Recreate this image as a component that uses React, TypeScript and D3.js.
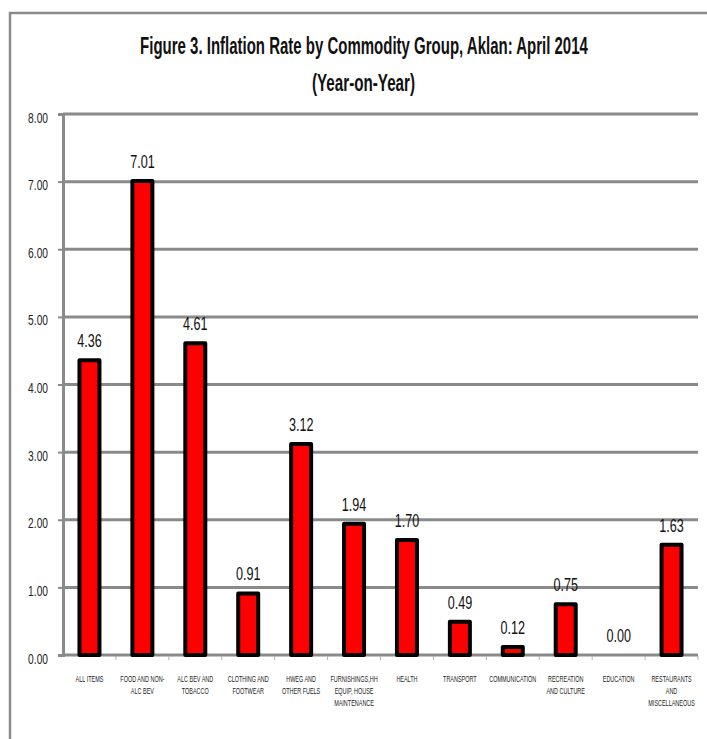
import { useEffect, useRef } from 'react'
import * as d3 from 'd3'

const categories = [
  'ALL ITEMS',
  'FOOD AND NON-\nALC BEV',
  'ALC BEV AND\nTOBACCO',
  'CLOTHING AND\nFOOTWEAR',
  'HWEG AND\nOTHER FUELS',
  'FURNISHINGS,HH\nEQUIP, HOUSE\nMAINTENANCE',
  'HEALTH',
  'TRANSPORT',
  'COMMUNICATION',
  'RECREATION\nAND CULTURE',
  'EDUCATION',
  'RESTAURANTS\nAND\nMISCELLANEOUS'
]
const values = [4.36, 7.01, 4.61, 0.91, 3.12, 1.94, 1.7, 0.49, 0.12, 0.75, 0.0, 1.63]
const yTicks = [0, 1, 2, 3, 4, 5, 6, 7, 8]

const titleLine1 = 'Figure 3. Inflation Rate by Commodity Group, Aklan: April 2014'
const titleLine2 = '(Year-on-Year)'

const W = 707
const H = 739
const FONT = '"Liberation Sans", Arial, sans-serif'

export default function App() {
  const svgRef = useRef<SVGSVGElement>(null)

  useEffect(() => {
    if (!svgRef.current) return
    const svg = d3.select(svgRef.current)
    svg.selectAll('*').remove()

    const margin = { top: 114, right: 9, bottom: 84, left: 63 }
    const innerW = W - margin.left - margin.right
    const innerH = H - margin.top - margin.bottom

    // outer frame (runs off the right and bottom edge)
    svg.append('rect')
      .attr('x', 10).attr('y', 13)
      .attr('width', 760).attr('height', 800)
      .attr('fill', 'none')
      .attr('stroke', '#8a8a8a')
      .attr('stroke-width', 2.5)

    // title lines, squeezed to the narrow width of the original
    const fitTitle = (txt: string, cx: number, by: number, width: number) => {
      const t = svg.append('text')
        .attr('text-anchor', 'middle')
        .attr('font-family', FONT)
        .attr('font-weight', 'bold')
        .attr('font-size', 24)
        .attr('fill', '#111')
        .text(txt)
      const len = (t.node() as SVGTextElement).getComputedTextLength() || width
      t.attr('transform', `translate(${cx},${by}) scale(${width / len},1)`)
    }
    fitTitle(titleLine1, 364, 54, 448)
    fitTitle(titleLine2, 363.5, 91, 103)

    const g = svg.append('g').attr('transform', `translate(${margin.left},${margin.top})`)

    const x = d3.scaleBand().domain(categories).range([0, innerW])
    const y = d3.scaleLinear().domain([0, 8]).range([innerH, 0])

    // gridlines
    g.selectAll('.grid')
      .data(yTicks.filter(t => t > 0))
      .enter()
      .append('line')
      .attr('x1', 0).attr('x2', innerW)
      .attr('y1', d => y(d)).attr('y2', d => y(d))
      .attr('stroke', '#8a8a8a')
      .attr('stroke-width', 3)

    // y axis
    const yAxis = g.append('g')
      .call(d3.axisLeft(y).tickValues(yTicks).tickSize(5).tickFormat(d => d3.format('.2f')(d as number)))
    yAxis.select('.domain').attr('stroke', '#8a8a8a').attr('stroke-width', 3)
    yAxis.selectAll('.tick line').attr('stroke', '#8a8a8a').attr('stroke-width', 2)
    yAxis.selectAll('.tick text')
      .attr('x', null)
      .attr('dy', null)
      .attr('text-anchor', 'end')
      .attr('font-family', FONT)
      .attr('font-size', 14)
      .attr('fill', '#222')
      .attr('transform', 'translate(-15,8) scale(0.73,1)')

    // x axis
    const xAxis = g.append('g').attr('transform', `translate(0,${innerH})`)
    xAxis.append('line')
      .attr('x1', 0).attr('x2', innerW)
      .attr('stroke', '#8a8a8a').attr('stroke-width', 3)
    xAxis.selectAll('.xt')
      .data(categories)
      .enter()
      .append('line')
      .attr('x1', d => (x(d) ?? 0) + x.step())
      .attr('x2', d => (x(d) ?? 0) + x.step())
      .attr('y1', 1).attr('y2', 5)
      .attr('stroke', '#b0b0b0').attr('stroke-width', 1)

    const labels = xAxis.selectAll('.xl')
      .data(categories)
      .enter()
      .append('text')
      .attr('text-anchor', 'middle')
      .attr('font-family', FONT)
      .attr('font-size', 8.3)
      .attr('fill', '#222')
      .attr('transform', d => `translate(${(x(d) ?? 0) + x.bandwidth() / 2},27) scale(0.66,1)`)
    labels.each(function (d) {
      const t = d3.select(this)
      d.split('\n').forEach((line, i) => {
        t.append('tspan')
          .attr('x', 0)
          .attr('y', i * 12)
          .text(line)
      })
    })

    // bars
    const barW = 20
    g.selectAll('.bar')
      .data(values)
      .enter()
      .append('rect')
      .attr('x', (d, i) => (x(categories[i]) ?? 0) + x.bandwidth() / 2 - barW / 2)
      .attr('y', d => y(d))
      .attr('width', barW)
      .attr('height', d => innerH - y(d))
      .attr('fill', d => (d > 0 ? '#ff0000' : 'none'))
      .attr('stroke', d => (d > 0 ? '#000' : 'none'))
      .attr('stroke-width', 4)
      .attr('stroke-linejoin', 'round')

    // value labels
    g.selectAll('.val')
      .data(values)
      .enter()
      .append('text')
      .attr('text-anchor', 'middle')
      .attr('font-family', FONT)
      .attr('font-size', 18)
      .attr('fill', '#111')
      .attr('transform', (d, i) => `translate(${(x(categories[i]) ?? 0) + x.bandwidth() / 2},${y(d) - 13}) scale(0.7,1)`)
      .text(d => d3.format('.2f')(d))
  }, [])

  return (
    <svg
      ref={svgRef}
      width={W}
      height={H}
      style={{ position: 'absolute', left: 0, top: 0, background: '#fff' }}
    />
  )
}
